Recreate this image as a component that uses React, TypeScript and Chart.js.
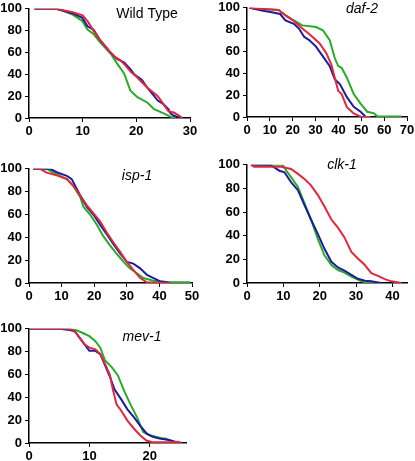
import React, { useEffect, useRef } from "react";
import { Chart, registerables } from "chart.js";

Chart.register(...registerables);

type Pt = [number, number];

const BLUE = "#1c1c9c";
const RED = "#e4263c";
const GREEN = "#26ad26";
const FONT = '"Liberation Sans", Arial, sans-serif';

const yTicks = [0, 20, 40, 60, 80, 100];

// Wild Type
const wildTypeTicks = [0, 10, 20, 30];
const wildTypeRed: Pt[] = [[1, 100], [5, 100], [8, 97], [10, 94], [11, 88], [12, 80], [13, 73], [14, 67], [15, 61], [16, 56], [17, 53], [18, 48], [19, 42], [20, 38], [21, 33], [22, 28], [23, 24], [24, 20], [25, 13], [26, 6], [27, 5], [28, 2], [28.6, 0]];
const wildTypeBlue: Pt[] = [[1, 100], [5, 100], [8, 96], [9.9, 92], [10.9, 84], [12, 81], [13.3, 71], [15, 61], [16.4, 54], [17.7, 51], [19, 44], [19.6, 40], [21, 35], [22, 28], [23, 22], [24, 16], [25, 13], [26, 8], [26.4, 4], [27, 2], [27.7, 1], [28.3, 0]];
const wildTypeGreen: Pt[] = [[1, 100], [5.5, 100], [8, 95], [9.9, 89], [10.9, 81], [12, 77], [13.3, 69], [15.2, 59], [16.4, 50], [17.7, 41], [18.9, 25], [20.2, 19], [22.1, 14], [23.3, 8], [25.2, 4], [26.4, 1], [27.4, 0]];

// daf-2
const daf2Ticks = [0, 10, 20, 30, 40, 50, 60, 70];
const daf2Red: Pt[] = [[1, 100], [7, 99], [13.8, 98], [16.8, 93], [20.5, 88], [24.2, 81], [27.2, 76], [31.7, 67.5], [34.7, 58.5], [36.9, 48], [38.4, 36], [39.9, 24], [41.4, 21], [43.7, 9], [46.7, 3.3], [49.7, 0.3], [54, 0]];
const daf2Blue: Pt[] = [[1, 100], [7, 97.3], [10.8, 96], [14.5, 94.3], [16.8, 88.4], [20.5, 85.4], [22.7, 81], [25, 73.4], [27.2, 70.4], [30.2, 64.5], [33.2, 55.5], [36.2, 46.6], [38.4, 34.6], [40.7, 30], [43.7, 18.2], [46.7, 9.3], [49.7, 4.8], [51.9, 0.3], [52.6, 0]];
const daf2Green: Pt[] = [[1, 100], [7, 99], [13.8, 98], [16.8, 93.4], [20.5, 88.4], [24.2, 83.9], [30.2, 82.4], [33.2, 79.4], [36.2, 70.4], [38.4, 54], [39.9, 46.6], [41.4, 45], [43.7, 36], [46.7, 21], [49.7, 12.2], [52.6, 4.8], [55.6, 3.3], [57.1, 0.5], [67.6, 0.5]];

// isp-1
const isp1Ticks = [0, 10, 20, 30, 40, 50];
const isp1Red: Pt[] = [[1.3, 100], [3.4, 100], [5.4, 96.6], [8.5, 94.3], [11.6, 91], [13.6, 85], [15.7, 76.7], [17.7, 68.2], [19.8, 61], [21.8, 54], [23.9, 44], [25.9, 35.5], [28, 27], [30, 18.5], [32, 11.4], [34.1, 4.3], [36.2, 0.6], [43.3, 0]];
const isp1Blue: Pt[] = [[1.3, 100], [6.5, 100], [8.5, 97], [11.6, 93.8], [13.1, 91], [15.7, 76.7], [17.7, 66.8], [19.8, 59.7], [21.8, 51], [23.9, 42.6], [25.9, 34], [28, 25.6], [30, 18.5], [32, 17], [34.1, 12.8], [36.2, 7], [38.2, 4.3], [40.3, 1.4], [42.3, 0.6], [43.3, 0]];
const isp1Green: Pt[] = [[1.3, 100], [5.4, 100], [8.5, 95], [11.6, 91], [13.6, 85], [15.7, 75.3], [16.7, 66.8], [18.8, 59.7], [20.8, 51], [22.8, 41], [24.9, 32.7], [26.9, 25.6], [29, 18.5], [31, 12.8], [33.1, 8.5], [35.1, 4.3], [38.2, 2], [42.3, 0.9], [49.5, 0.6]];

// clk-1
const clk1Ticks = [0, 10, 20, 30, 40];
const clk1Red: Pt[] = [[1.1, 100], [2, 98.3], [9.4, 98.3], [12.1, 96.4], [14, 92.3], [15.8, 88], [17.6, 82.6], [19.5, 74.4], [21.3, 64.7], [23.2, 53.7], [25, 46.8], [26.8, 38.6], [28.7, 26.2], [30.5, 20.7], [32.4, 15.2], [34.2, 8.3], [36, 6], [37.9, 3.3], [39.7, 1.4], [42.5, 0]];
const clk1Blue: Pt[] = [[1.1, 100], [6.2, 100], [7.5, 97.8], [8.9, 95], [10.3, 93.7], [12.1, 85.4], [14, 78.5], [15.8, 66], [17.6, 53.7], [19.5, 41.3], [21.3, 28.9], [23.2, 17.9], [25, 13.2], [26.8, 10.5], [28.7, 6.9], [30.5, 3.6], [32.4, 1.9], [34.2, 1.4], [36, 0.5], [37, 0]];
const clk1Green: Pt[] = [[1.1, 100], [9.8, 100], [10.8, 95], [12.1, 89.5], [14, 81.3], [15.8, 67.5], [17.6, 53.7], [19.5, 37.2], [21.3, 23.4], [23.2, 15.2], [25, 11], [26.8, 8.8], [28.7, 5.5], [30.5, 2.8], [32.4, 0.5], [34.2, 0.5], [36.5, 0]];

// mev-1
const mev1Ticks = [0, 10, 20];
const mev1Red: Pt[] = [[0, 100], [6.8, 100], [7.6, 97.7], [8.4, 92], [9.2, 86.4], [10, 83.5], [11, 82], [11.8, 77.8], [12.6, 69.3], [13.4, 59.4], [13.9, 46.6], [14.5, 33.8], [15.3, 28], [16.3, 19.6], [17.4, 12.5], [18.4, 6.8], [19.5, 2], [20.5, 0.6], [23.7, 0.6], [24.7, 1.1], [25.3, 0]];
const mev1Blue: Pt[] = [[0, 100], [5, 100], [6.8, 99], [7.6, 97.7], [8.4, 92], [9.2, 86.4], [10, 80.7], [11, 80.7], [11.8, 77.8], [12.6, 68], [13.4, 58], [14.2, 46.6], [15.3, 38], [16.3, 29.5], [17.4, 22.4], [18.4, 15.3], [19.5, 8.2], [20.5, 5.4], [21.6, 4], [23.2, 2.6], [24.2, 1.1], [25, 0]];
const mev1Green: Pt[] = [[0, 100], [7, 100], [7.9, 98.6], [8.9, 96.3], [10, 93.5], [11, 89.2], [11.8, 83.5], [12.6, 72.2], [13.7, 66.5], [14.7, 59.4], [15.8, 45.2], [16.8, 33.8], [17.9, 22.4], [18.9, 9.7], [20, 6.8], [21, 5.4], [22.1, 4], [22.6, 4], [23.7, 1.1], [24.2, 0]];

type PanelProps = {
  left: number; top: number; width: number; height: number;
  xMax: number; xTicks: number[];
  title: string; italic: boolean; titleX: number; titleY: number;
  red: Pt[]; blue: Pt[]; green: Pt[];
};

const PL = 34, PT = 8, PR = 14, PB = 24;

function Panel(p: PanelProps) {
  const ref = useRef<HTMLCanvasElement>(null);
  useEffect(() => {
    if (!ref.current) return;
    const toData = (a: Pt[]) => a.map(([x, y]) => ({ x, y }));
    const titlePlugin = {
      id: "panelTitle",
      afterDraw(chart: any) {
        const ctx = chart.ctx;
        ctx.save();
        ctx.font = `${p.italic ? "italic " : ""}14px ${FONT}`;
        ctx.fillStyle = "#000";
        ctx.textAlign = "center";
        ctx.textBaseline = "middle";
        ctx.fillText(p.title, p.titleX - (p.left - PL), p.titleY - (p.top - PT));
        ctx.restore();
      },
    };
    const tickFont = { family: FONT, size: 13, weight: "bold" as const };
    const ds = (data: Pt[], color: string) => ({
      data: toData(data),
      borderColor: color,
      backgroundColor: color,
      borderWidth: 2,
      pointRadius: 0,
      tension: 0,
      fill: false,
    });
    const chart = new Chart(ref.current, {
      type: "line",
      data: { datasets: [ds(p.red, RED), ds(p.blue, BLUE), ds(p.green, GREEN)] },
      options: {
        animation: false,
        responsive: false,
        maintainAspectRatio: false,
        layout: { padding: { left: 0, top: PT, right: PR, bottom: 0 } },
        plugins: { legend: { display: false }, tooltip: { enabled: false } },
        scales: {
          x: {
            type: "linear",
            min: 0,
            max: p.xMax,
            afterBuildTicks: (s: any) => { s.ticks = p.xTicks.map((v) => ({ value: v })); },
            afterFit: (s: any) => { s.height = PB; },
            grid: { display: true, drawOnChartArea: false, drawTicks: true, tickLength: 4, color: "#000", lineWidth: 1 },
            border: { display: true, color: "#000", width: 1.5 },
            ticks: { color: "#000", font: tickFont, padding: 2, maxRotation: 0, autoSkip: false },
          },
          y: {
            type: "linear",
            min: 0,
            max: 100,
            afterBuildTicks: (s: any) => { s.ticks = yTicks.map((v) => ({ value: v })); },
            afterFit: (s: any) => { s.width = PL; },
            grid: { display: true, drawOnChartArea: false, drawTicks: true, tickLength: 4, color: "#000", lineWidth: 1 },
            border: { display: true, color: "#000", width: 1.5 },
            ticks: { color: "#000", font: tickFont, padding: 3, autoSkip: false },
          },
        },
      },
      plugins: [titlePlugin],
    } as any);
    return () => chart.destroy();
  }, []);
  const w = PL + p.width + PR;
  const h = PT + p.height + PB;
  return (
    <canvas
      ref={ref}
      width={w}
      height={h}
      style={{ position: "absolute", left: p.left - PL, top: p.top - PT, width: w, height: h }}
    />
  );
}

export default function App() {
  return (
    <div style={{ position: "absolute", left: 0, top: 0, width: 415, height: 461, background: "#fff", overflow: "hidden" }}>
      <Panel left={29} top={6} width={161} height={112} xMax={30} xTicks={wildTypeTicks}
        title="Wild Type" italic={false} titleX={147} titleY={14}
        red={wildTypeRed} blue={wildTypeBlue} green={wildTypeGreen} />
      <Panel left={247} top={5} width={160} height={112} xMax={70} xTicks={daf2Ticks}
        title="daf-2" italic={true} titleX={362} titleY={9}
        red={daf2Red} blue={daf2Blue} green={daf2Green} />
      <Panel left={29} top={166} width={163} height={117} xMax={50} xTicks={isp1Ticks}
        title="isp-1" italic={true} titleX={137} titleY={176}
        red={isp1Red} blue={isp1Blue} green={isp1Green} />
      <Panel left={247} top={162} width={160} height={121} xMax={44} xTicks={clk1Ticks}
        title="clk-1" italic={true} titleX={342} titleY={165}
        red={clk1Red} blue={clk1Blue} green={clk1Green} />
      <Panel left={29} top={326} width={157} height={117} xMax={26} xTicks={mev1Ticks}
        title="mev-1" italic={true} titleX={142} titleY={337}
        red={mev1Red} blue={mev1Blue} green={mev1Green} />
    </div>
  );
}
